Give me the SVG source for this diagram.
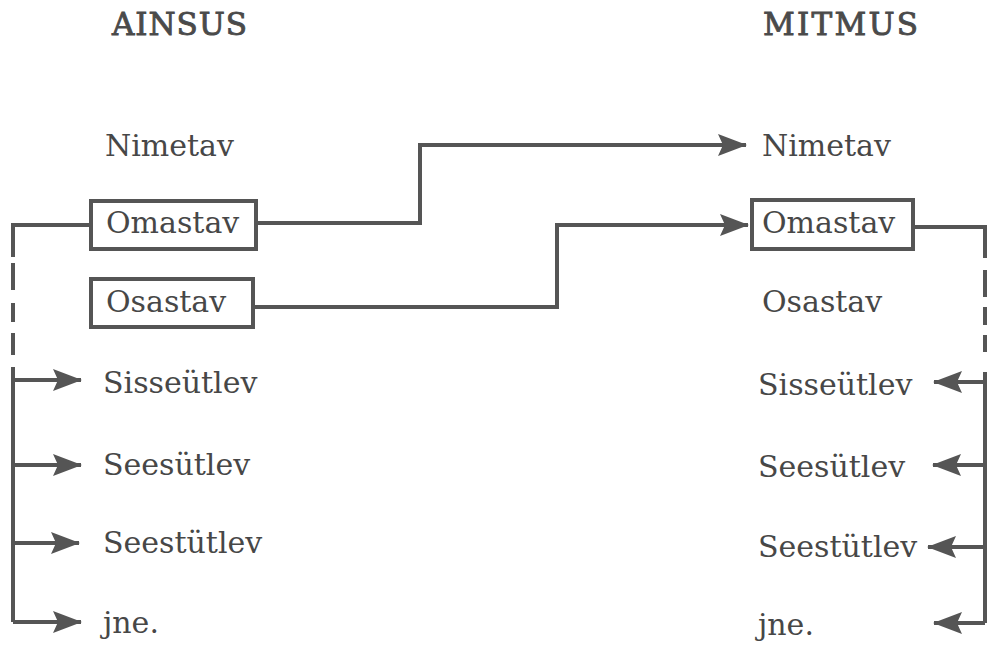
<svg xmlns="http://www.w3.org/2000/svg" width="987" height="647" viewBox="0 0 987 647">
<style>
text { font-family: "DejaVu Serif", "Liberation Serif", serif; font-size: 30px; fill: #474747; }
.hdr { font-size: 31px; fill: #4a4a4a; stroke: #4a4a4a; stroke-width: 0.9; }
.box { fill: none; stroke: #555; stroke-width: 4; }
.ln { fill: none; stroke: #555; stroke-width: 4; }
.arr { marker-end: url(#ah); }
</style>
<defs>
<marker id="ah" markerUnits="userSpaceOnUse" markerWidth="34" markerHeight="28" viewBox="-31 -14 34 28" refX="0" refY="0" orient="auto">
<path d="M1,0 L-28,-11 L-23,0 L-28,11 Z" fill="#555"/>
</marker>
</defs>
<rect width="987" height="647" fill="#ffffff"/>
<g id="header-ainsus"><text class="hdr" x="112" y="35" textLength="135">AINSUS</text></g>
<g id="header-mitmus"><text class="hdr" x="763" y="35" textLength="155">MITMUS</text></g>

<g id="l-nimetav"><text x="105" y="156">Nimetav</text></g>
<g id="l-omastav"><rect class="box" x="91" y="201" width="165" height="48"/><text x="106" y="233">Omastav</text></g>
<g id="l-osastav"><rect class="box" x="91" y="279" width="162" height="48"/><text x="106" y="312">Osastav</text></g>
<g id="l-sisseutlev"><text x="103" y="393">Sisseütlev</text></g>
<g id="l-seesutlev"><text x="103" y="475">Seesütlev</text></g>
<g id="l-seestutlev"><text x="103" y="553">Seestütlev</text></g>
<g id="l-jne"><text x="103" y="633">jne.</text></g>

<g id="r-nimetav"><text x="762" y="156">Nimetav</text></g>
<g id="r-omastav"><rect class="box" x="752" y="200" width="161" height="49"/><text x="762" y="233">Omastav</text></g>
<g id="r-osastav"><text x="762" y="312">Osastav</text></g>
<g id="r-sisseutlev"><text x="758" y="395">Sisseütlev</text></g>
<g id="r-seesutlev"><text x="758" y="477">Seesütlev</text></g>
<g id="r-seestutlev"><text x="758" y="557">Seestütlev</text></g>
<g id="r-jne"><text x="758" y="635">jne.</text></g>

<g id="connectors">
<path class="ln arr" d="M257,223 H420 V145 H746"/>
<path class="ln arr" d="M254,307 H557 V225 H748"/>
<!-- left branch -->
<path class="ln" d="M91,225 H13 V257"/>
<path class="ln" d="M13,263 V290 M13,303 V322 M13,333 V355"/>
<path class="ln" d="M13,367 V622"/>
<path class="ln arr" d="M13,380 H81"/>
<path class="ln arr" d="M13,465 H81"/>
<path class="ln arr" d="M13,543 H79"/>
<path class="ln arr" d="M13,622 H81"/>
<!-- right branch -->
<path class="ln" d="M913,227 H985 V258"/>
<path class="ln" d="M985,270 V297 M985,307 V325 M985,335 V352"/>
<path class="ln" d="M985,372 V623"/>
<path class="ln arr" d="M985,382 H934"/>
<path class="ln arr" d="M985,465 H933"/>
<path class="ln arr" d="M985,547 H928"/>
<path class="ln arr" d="M985,623 H934"/>
</g>
</svg>
